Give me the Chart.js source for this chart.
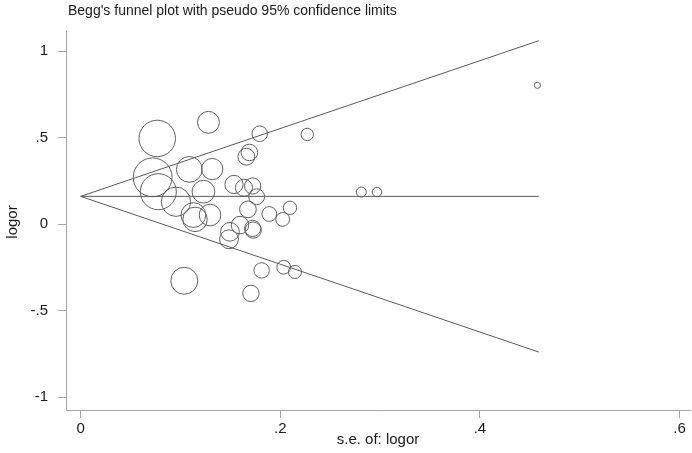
<!DOCTYPE html>
<html>
<head>
<meta charset="utf-8">
<script src="https://cdn.jsdelivr.net/npm/chart.js@4.4.1/dist/chart.umd.min.js"></script>
<style>
    html, body { margin: 0; padding: 0; background: #fff; overflow: hidden; }
    canvas { display: block; }
</style>
</head>
<body>
<canvas id="chart" width="692" height="453"></canvas>
<script>
// standard errors and log odds ratios of the studies
const seValues = [0.0767, 0.128, 0.1794, 0.227, 0.166, 0.169, 0.0721, 0.1088, 0.1318, 0.0778,
    0.123, 0.1536, 0.1636, 0.1723, 0.1763, 0.0955, 0.1129, 0.1146, 0.1296, 0.1676,
    0.189, 0.2097, 0.2024, 0.1596, 0.1496, 0.1486, 0.1723, 0.1729, 0.1813, 0.2034,
    0.2147, 0.1038, 0.1706, 0.2812, 0.2969, 0.4576];
const logorValues = [0.495, 0.588, 0.522, 0.518, 0.389, 0.414, 0.270, 0.316, 0.318, 0.187,
    0.187, 0.229, 0.210, 0.220, 0.158, 0.129, 0.052, 0.027, 0.052, 0.085,
    0.058, 0.094, 0.027, -0.006, -0.045, -0.088, -0.025, -0.035, -0.268, -0.250,
    -0.277, -0.328, -0.401, 0.185, 0.185, 0.802];

// pooled estimate and pseudo 95% limits
const limitSe = [0, 0.459];
const pooledLine = [0.16, 0.16];
const upperLimit = [0.16, 1.06];
const lowerLimit = [0.16, -0.74];

const xTicks = [0, 0.2, 0.4, 0.6];
const yTicks = [-1, -0.5, 0, 0.5, 1];

const fmt = (v) => {
    if (v === 0) return "0";
    let s = String(Math.round(v * 10) / 10);
    return s.replace("0.", ".");
};

const pairs = (xs, ys) => xs.map((x, i) => ({ x, y: ys[i] }));

const lineDs = (data) => ({
    type: "scatter",
    data,
    showLine: true,
    borderColor: "#5a5a5a",
    borderWidth: 1,
    pointRadius: 0,
    fill: false
});

const textPlugin = {
    id: "texts",
    afterDraw(chart) {
        const ctx = chart.ctx;
        const area = chart.chartArea;
        ctx.save();
        ctx.fillStyle = "#1a1a1a";
        ctx.font = "14px 'Liberation Sans', Arial, sans-serif";
        ctx.textBaseline = "alphabetic";
        ctx.textAlign = "left";
        ctx.fillText("Begg's funnel plot with pseudo 95% confidence limits", 68, 15);
        ctx.textAlign = "center";
        ctx.font = "15px 'Liberation Sans', Arial, sans-serif";
        ctx.fillText("s.e. of: logor", (area.left + area.right) / 2, 444);
        ctx.translate(17, 222);
        ctx.rotate(-Math.PI / 2);
        ctx.fillText("logor", 0, 0);
        ctx.restore();
    }
};

const ctx = document.getElementById("chart").getContext("2d");
new Chart(ctx, {
    type: "bubble",
    data: {
        datasets: [
            lineDs(pairs(limitSe, upperLimit)),
            lineDs(pairs(limitSe, pooledLine)),
            lineDs(pairs(limitSe, lowerLimit)),
            {
                type: "bubble",
                data: pairs(seValues, logorValues),
                backgroundColor: "rgba(0,0,0,0)",
                borderColor: "#606060",
                borderWidth: 1,
                radius: (c) => {
                    const p = c.raw;
                    return p ? 1.4 / p.x : 3;
                }
            }
        ]
    },
    options: {
        responsive: false,
        animation: false,
        events: [],
        devicePixelRatio: 1,
        layout: { autoPadding: false, padding: { left: 0, right: 2, top: 31, bottom: 0 } },
        plugins: {
            legend: { display: false },
            tooltip: { enabled: false }
        },
        scales: {
            x: {
                type: "linear",
                min: -0.0147,
                max: 0.6105,
                afterBuildTicks: (axis) => { axis.ticks = xTicks.map((v) => ({ value: v })); },
                afterFit: (axis) => {
                    axis.height = 43;
                    axis.paddingLeft = 0;
                    axis.paddingRight = 0;
                },
                grid: { drawOnChartArea: false, drawTicks: true, tickLength: 8, color: "#a8a8a8" },
                border: { display: true, color: "#a8a8a8", width: 1 },
                ticks: {
                    padding: 2,
                    color: "#1a1a1a",
                    font: { family: "'Liberation Sans', Arial, sans-serif", size: 15 },
                    callback: (v) => fmt(v),
                    maxRotation: 0
                }
            },
            y: {
                type: "linear",
                min: -1.075,
                max: 1.116,
                afterBuildTicks: (axis) => { axis.ticks = yTicks.map((v) => ({ value: v })); },
                afterFit: (axis) => {
                    axis.width = 66;
                    axis.paddingTop = 0;
                    axis.paddingBottom = 0;
                },
                grid: { drawOnChartArea: false, drawTicks: true, tickLength: 8, color: "#a8a8a8" },
                border: { display: true, color: "#a8a8a8", width: 1 },
                ticks: {
                    padding: 10,
                    color: "#1a1a1a",
                    font: { family: "'Liberation Sans', Arial, sans-serif", size: 15 },
                    callback: (v) => fmt(v)
                }
            }
        }
    },
    plugins: [textPlugin]
});
</script>
</body>
</html>
